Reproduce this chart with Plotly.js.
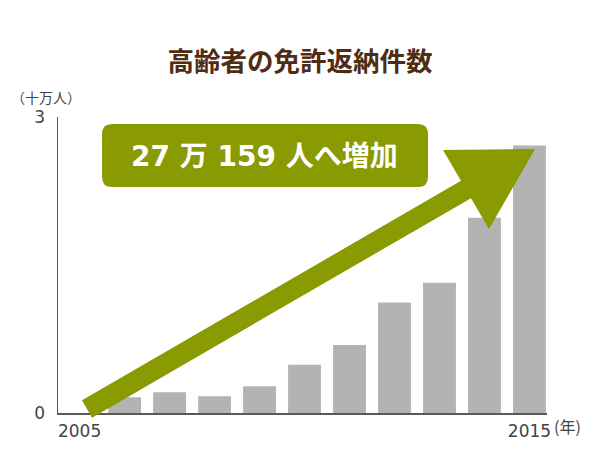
<!DOCTYPE html>
<html>
<head>
<meta charset="utf-8">
<script src="https://cdn.plot.ly/plotly-3.0.1.min.js"></script>
<style>
  html, body { margin: 0; padding: 0; background: #fff; }
  #chart { width: 600px; height: 450px; }
</style>
</head>
<body>
<div id="chart"></div>
<script>
// 高齢者の免許返納件数 (単位: 十万人)
var years  = [2006, 2007, 2008, 2009, 2010, 2011, 2012, 2013, 2014, 2015];
var counts = [0.16, 0.21, 0.17, 0.27, 0.49, 0.69, 1.12, 1.32, 1.98, 2.71];
var yTicks = [0, 3];
var xTickVals = [2005, 2015];
var xTickText = ['2005', '2015'];

var GREEN = '#8a9a01';
var FONT  = 'DejaVu Sans, Noto Sans CJK JP, sans-serif';
var JP    = 'Noto Sans CJK JP, sans-serif';

// plot area in pixels (for the decoration shapes)
var L = 58, R = 547, T = 117, B = 413;
function px(x) { return (x - L) / (R - L); }
function py(y) { return (B - y) / (B - T); }
function pt(x, y) { return px(x).toFixed(4) + ',' + py(y).toFixed(4); }

// big arrow: shaft + head
function arrowPath() {
    var sx = 87, sy = 409;          // start of shaft
    var b1 = [489, 229], b2 = [443, 150], tip = [535, 149];
    var mx = (b1[0] + b2[0]) / 2, my = (b1[1] + b2[1]) / 2;
    var dx = mx - sx, dy = my - sy, len = Math.sqrt(dx * dx + dy * dy);
    var nx = -dy / len * 10, ny = dx / len * 10;
    if (ny < 0) { nx = -nx; ny = -ny; }
    return 'M' + pt(sx + nx, sy + ny) +
        ' L' + pt(mx + nx, my + ny) +
        ' L' + pt(b1[0], b1[1]) +
        ' L' + pt(tip[0], tip[1]) +
        ' L' + pt(b2[0], b2[1]) +
        ' L' + pt(mx - nx, my - ny) +
        ' L' + pt(sx - nx, sy - ny) + ' Z';
}

// rounded box
function roundRect(x0, y0, x1, y1, r) {
    return 'M' + pt(x0 + r, y0) +
        ' L' + pt(x1 - r, y0) + ' Q' + pt(x1, y0) + ' ' + pt(x1, y0 + r) +
        ' L' + pt(x1, y1 - r) + ' Q' + pt(x1, y1) + ' ' + pt(x1 - r, y1) +
        ' L' + pt(x0 + r, y1) + ' Q' + pt(x0, y1) + ' ' + pt(x0, y1 - r) +
        ' L' + pt(x0, y0 + r) + ' Q' + pt(x0, y0) + ' ' + pt(x0 + r, y0) + ' Z';
}

var trace = {
    type: 'bar', x: years, y: counts,
    width: 0.73,
    marker: { color: '#b3b3b3', line: { width: 0 } },
    hoverinfo: 'skip'
};

var layout = {
    width: 600, height: 450,
    paper_bgcolor: '#fff', plot_bgcolor: '#fff',
    margin: { l: L, r: 600 - R, t: T, b: 450 - B, pad: 0 },
    showlegend: false,
    title: {
        text: '<b>高齢者の免許返納件数</b>',
        font: { family: JP, size: 26.5, color: '#4f2c12' },
        x: 0.5, xanchor: 'center',
        y: 1 - 62 / 450, yref: 'container', yanchor: 'middle'
    },
    xaxis: {
        range: [2004.52, 2015.39],
        tickvals: xTickVals, ticktext: xTickText,
        showgrid: false, zeroline: false,
        showline: true, linecolor: '#595959', linewidth: 1.5,
        ticks: '', ticklabelstandoff: 2,
        tickfont: { family: FONT, size: 17, color: '#444' },
        fixedrange: true
    },
    yaxis: {
        range: [0, 3],
        tickvals: yTicks,
        showgrid: false, zeroline: false,
        showline: true, linecolor: '#595959', linewidth: 1.5,
        ticks: '', ticklabelstandoff: 8,
        tickfont: { family: FONT, size: 17, color: '#444' },
        fixedrange: true
    },
    shapes: [
        { type: 'path', xref: 'paper', yref: 'paper', path: roundRect(102, 124, 428, 187, 10),
          fillcolor: GREEN, line: { width: 0 } },
        { type: 'path', xref: 'paper', yref: 'paper', path: arrowPath(),
          fillcolor: GREEN, line: { width: 0 } }
    ],
    annotations: [
        { xref: 'paper', yref: 'paper', x: px(264), y: py(156),
          text: '<b>27 万 159 人へ増加</b>', showarrow: false,
          font: { family: FONT, size: 28, color: '#fff' },
          xanchor: 'center', yanchor: 'middle' },
        { xref: 'paper', yref: 'paper', x: px(9), y: py(97),
          text: '（十万人）', showarrow: false,
          font: { family: JP, size: 14, color: '#444' },
          xanchor: 'left', yanchor: 'middle' },
        { xref: 'x', yref: 'paper', x: 2015, y: py(426),
          text: '(年)', showarrow: false, xshift: 23,
          font: { family: JP, size: 16, color: '#444' },
          xanchor: 'left', yanchor: 'middle' }
    ]
};

Plotly.newPlot('chart', [trace], layout, { displayModeBar: false, staticPlot: true });
</script>
</body>
</html>
